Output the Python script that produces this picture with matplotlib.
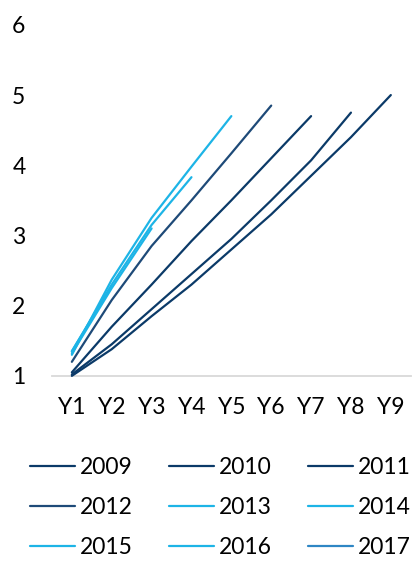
import matplotlib
matplotlib.use("Agg")
import matplotlib.pyplot as plt

plt.rcParams["font.family"] = ["Lato", "DejaVu Sans"]

years = ["Y1", "Y2", "Y3", "Y4", "Y5", "Y6", "Y7", "Y8", "Y9"]
vintages = ["2009", "2010", "2011", "2012", "2013", "2014", "2015", "2016", "2017"]

# cumulative multiple per vintage, one value per year since start
v2009 = [1.00, 1.38, 1.85, 2.30, 2.80, 3.30, 3.85, 4.40, 5.00]
v2010 = [1.02, 1.45, 1.95, 2.45, 2.95, 3.50, 4.07, 4.75]
v2011 = [1.05, 1.70, 2.30, 2.92, 3.50, 4.10, 4.70]
v2012 = [1.20, 2.08, 2.85, 3.50, 4.17, 4.85]
v2013 = [1.30, 2.37, 3.25, 3.98, 4.70]
v2014 = [1.35, 2.30, 3.15, 3.83]
v2015 = [1.32, 2.25, 3.10]
v2016 = [1.35, 2.28]
v2017 = [1.30]

series = [v2009, v2010, v2011, v2012, v2013, v2014, v2015, v2016, v2017]
colors = ["#0B3A68", "#0B3A68", "#0B3A68", "#1E4A78",
          "#1DB4E6", "#1DB4E6", "#1DB4E6", "#1DB4E6", "#2E86C4"]

fig = plt.figure(figsize=(4.12, 5.61), dpi=100)
ax = fig.add_axes([0.126, 0.33, 0.871, 0.6257])

lines = []
for name, vals, c in zip(vintages, series, colors):
    ln, = ax.plot(range(1, len(vals) + 1), vals, color=c, lw=1.6,
                  label=name, clip_on=False, solid_capstyle="round")
    lines.append(ln)

ax.set_xlim(0.5, 9.5)
ax.set_ylim(1, 6)
ax.set_xticks(range(1, 10))
ax.set_xticklabels(years)
ax.set_yticks(range(1, 7))

for s in ["top", "right", "left"]:
    ax.spines[s].set_visible(False)
ax.spines["bottom"].set_color("#D9D9D9")
ax.spines["bottom"].set_linewidth(1.3)
ax.spines["bottom"].set_zorder(0)
ax.tick_params(length=0, labelsize=16.5, colors="black")
ax.tick_params(axis="x", pad=15)
ax.tick_params(axis="y", pad=19)

# legend fills column by column, so reorder to read across rows
order = [0, 3, 6, 1, 4, 7, 2, 5, 8]
fig.legend([lines[i] for i in order], [vintages[i] for i in order],
           loc="lower center", bbox_to_anchor=(0.535, -0.032), ncol=3,
           frameon=False, fontsize=16.5, handlelength=1.95,
           handletextpad=0.2, columnspacing=1.6, labelspacing=0.84)

fig.savefig("out.png", dpi=100)
